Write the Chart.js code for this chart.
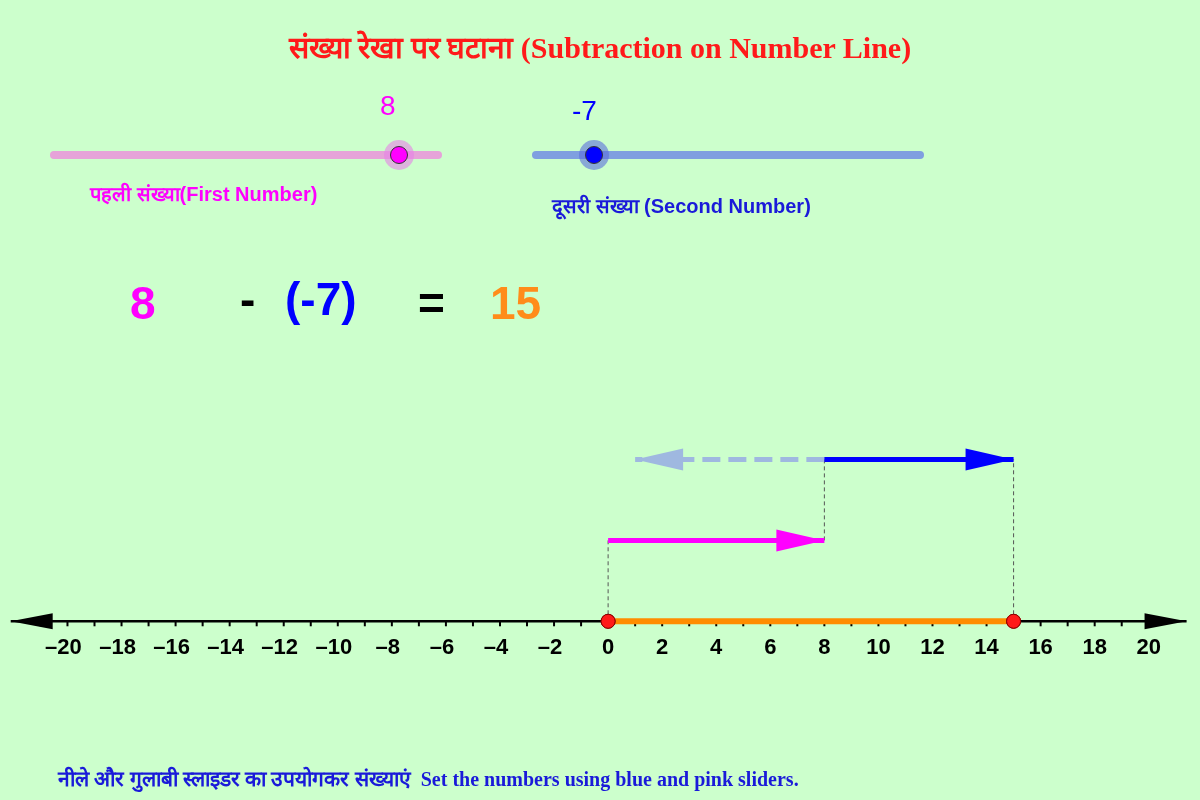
<!DOCTYPE html>
<html><head><meta charset="utf-8">
<script src="https://cdn.jsdelivr.net/npm/chart.js@4"></script>
<style>
body{margin:0;background:#ccffcc;width:1200px;height:800px;overflow:hidden;position:relative;font-family:"Liberation Sans",Arial,sans-serif}
#c{position:absolute;left:0;top:0}
.t{position:absolute;white-space:nowrap}
.track{position:absolute;height:8px;border-radius:4px}
.knob{position:absolute;width:18px;height:18px;border-radius:50%;border:1.5px solid #333;box-sizing:border-box}
.halo{position:absolute;width:30px;height:30px;border-radius:50%}
</style></head><body>
<canvas id="c" width="1200" height="800"></canvas>
<div class="t" style="left:0;width:1200px;top:26px;text-align:center;color:#ff1a1a;font:bold 30px 'Liberation Serif',serif">संख्या रेखा पर घटाना (Subtraction on Number Line)</div>
<div class="track" style="left:50px;top:151px;width:392px;background:#e6a3d9"></div>
<div class="halo" style="left:384px;top:140px;background:rgba(230,130,230,0.6)"></div>
<div class="knob" style="left:390px;top:146px;background:#ff00ff"></div>
<div class="t" style="left:380px;top:90px;color:#ff00ff;font:28px 'Liberation Sans',sans-serif">8</div>
<div class="t" style="left:90px;top:180px;color:#ff00ff;font:bold 20px 'Liberation Sans',sans-serif">पहली संख्या(First Number)</div>
<div class="track" style="left:532px;top:151px;width:392px;background:#7f9fe0"></div>
<div class="halo" style="left:579px;top:140px;background:rgba(90,110,220,0.6)"></div>
<div class="knob" style="left:585px;top:146px;background:#0000ff"></div>
<div class="t" style="left:572px;top:95px;color:#0000ff;font:28px 'Liberation Sans',sans-serif">-7</div>
<div class="t" style="left:552px;top:192px;color:#1a1ad9;font:bold 20px 'Liberation Sans',sans-serif">दूसरी संख्या (Second Number)</div>
<div class="t" style="left:130px;top:276px;color:#ff00ff;font:bold 46px 'Liberation Sans',sans-serif">8</div>
<div class="t" style="left:240px;top:272px;color:#000;font:bold 46px 'Liberation Sans',sans-serif">-</div>
<div class="t" style="left:285px;top:272px;color:#0000ff;font:bold 46px 'Liberation Sans',sans-serif">(-7)</div>
<div class="t" style="left:418px;top:276px;color:#000;font:bold 46px 'Liberation Sans',sans-serif">=</div>
<div class="t" style="left:490px;top:276px;color:#ff8c1a;font:bold 46px 'Liberation Sans',sans-serif">15</div>
<div class="t" style="left:58px;top:764px;color:#1a1ad9;font:bold 21px 'Liberation Serif',serif">नीले और गुलाबी स्लाइडर का उपयोगकर संख्याएं <span style="font-size:20px">&nbsp;Set the numbers using blue and pink sliders.</span></div>
<script>
const firstNumber = 8;
const secondNumber = -7;
const result = 15;
const tickValues = [-20,-18,-16,-14,-12,-10,-8,-6,-4,-2,0,2,4,6,8,10,12,14,16,18,20];
const axisLine = [{x:-22.1,y:0},{x:21.4,y:0}];
const resultSegment = [{x:0,y:0},{x:result,y:0}];
const firstArrow = [{x:0,y:1},{x:firstNumber,y:1}];
const secondArrow = [{x:firstNumber,y:2},{x:result,y:2}];
const negatedArrow = [{x:firstNumber,y:2},{x:firstNumber+secondNumber,y:2}];
const guides = [[{x:0,y:0},{x:0,y:1}],[{x:firstNumber,y:1},{x:firstNumber,y:2}],[{x:result,y:0},{x:result,y:2}]];

const ds = [];
guides.forEach(g=>ds.push({data:g,borderColor:'#555',borderWidth:1,borderDash:[4,3],pointRadius:0,order:6}));
ds.push({data:axisLine,borderColor:'#000',borderWidth:2.5,pointRadius:0,arrow:'both',ah:{len:42,w:16},order:5});
ds.push({data:resultSegment,borderColor:'#ff8c00',borderWidth:6,pointRadius:7,pointBackgroundColor:'#ff1a1a',pointBorderColor:'#800',pointBorderWidth:1,order:1});
ds.push({data:firstArrow,borderColor:'#ff00ff',borderWidth:5,pointRadius:0,arrow:'end',ah:{len:48,w:22},order:2});
ds.push({data:negatedArrow,borderColor:'#9fb8e0',borderWidth:5,borderDash:[18,8],pointRadius:0,arrow:'end',ah:{len:48,w:22},order:3});
ds.push({data:secondArrow,borderColor:'#0000ff',borderWidth:5,pointRadius:0,arrow:'end',ah:{len:48,w:22},order:2});

function head(ctx,x1,y1,x2,y2,len,w,col){
  const a=Math.atan2(y2-y1,x2-x1);
  ctx.save();ctx.translate(x2,y2);ctx.rotate(a);ctx.fillStyle=col;
  ctx.beginPath();ctx.moveTo(0,0);ctx.lineTo(-len,-w/2);ctx.lineTo(-len,w/2);ctx.closePath();ctx.fill();ctx.restore();
}
const deco={id:'deco',
 beforeDatasetsDraw(ch){
  const c=ch.ctx,xs=ch.scales.x,ys=ch.scales.y,y0=ys.getPixelForValue(0);
  c.save();c.strokeStyle='#000';c.lineWidth=2;
  for(let v=-21;v<=20;v++){const px=xs.getPixelForValue(v);c.beginPath();c.moveTo(px,y0);c.lineTo(px,y0+5);c.stroke();}
  c.fillStyle='#000';c.font='bold 22px "Liberation Sans",Arial';c.textAlign='center';c.textBaseline='top';
  tickValues.forEach(v=>{c.fillText(v<0?'\u2013'+(-v):String(v),xs.getPixelForValue(v)+(v<0?-4:0),y0+16);});
  c.restore();
 },
 afterDatasetsDraw(ch){
  const c=ch.ctx;
  ch.data.datasets.forEach((d,i)=>{
   if(!d.arrow)return;
   const m=ch.getDatasetMeta(i).data, p0=m[0], p1=m[m.length-1];
   head(c,p0.x,p0.y,p1.x,p1.y,d.ah.len,d.ah.w,d.borderColor);
   if(d.arrow==='both')head(c,p1.x,p1.y,p0.x,p0.y,d.ah.len,d.ah.w,d.borderColor);
  });
  const m=ch.getDatasetMeta(4).data;
  m.forEach(p=>p.draw(c));
 }};
new Chart(document.getElementById('c'),{type:'line',data:{datasets:ds},
 options:{responsive:false,animation:false,layout:{padding:0},
  plugins:{legend:{display:false},tooltip:{enabled:false}},
  scales:{x:{type:'linear',min:-22.2,max:21.6,display:false},y:{min:-2.11,max:7.58,display:false}}},
 plugins:[deco]});
</script></body></html>
